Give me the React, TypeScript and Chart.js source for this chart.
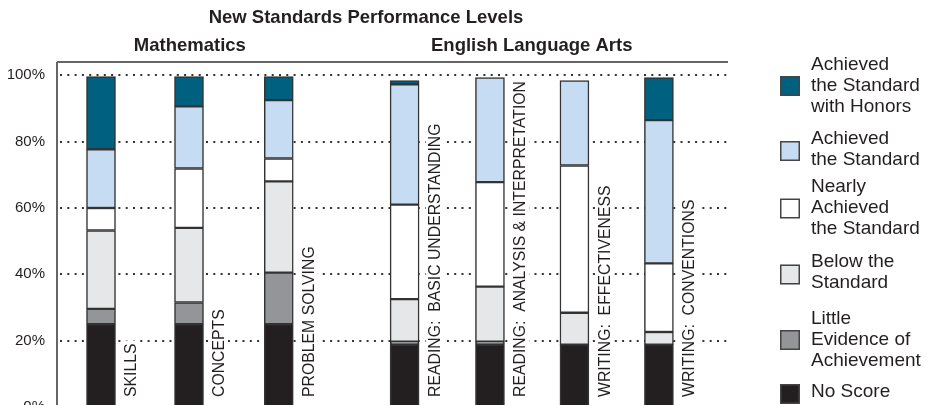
import React, { useEffect, useRef } from "react";
import { Chart, registerables } from "chart.js";
Chart.register(...registerables);

// ---- data ----
const categories = [
  "SKILLS",
  "CONCEPTS",
  "PROBLEM SOLVING",
  "READING:  BASIC UNDERSTANDING",
  "READING:  ANALYSIS & INTERPRETATION",
  "WRITING:  EFFECTIVENESS",
  "WRITING:  CONVENTIONS",
];
// category slot positions along the x axis (gap between the two subject groups)
const slots = [0.5, 1.5, 2.52, 3.95, 4.92, 5.88, 6.84];
const slotMax = 7.625;

const noScore = [25, 25, 25, 19, 19, 18.8, 18.8];
const littleEvidence = [4.6, 6.5, 15.5, 0.7, 0.7, 0, 0];
const belowStandard = [23.6, 22.5, 27.5, 12.8, 16.6, 9.6, 3.8];
const nearlyAchieved = [6.8, 17.9, 6.9, 28.5, 31.5, 44.4, 20.7];
const achieved = [17.7, 18.7, 17.6, 36.3, 31.5, 25.6, 43.2];
const honors = [21.9, 9.0, 7.1, 1.1, 0, 0, 12.8];

const seriesNames = [
  "No Score",
  "Little\nEvidence of\nAchievement",
  "Below the\nStandard",
  "Nearly\nAchieved\nthe Standard",
  "Achieved\nthe Standard",
  "Achieved\nthe Standard\nwith Honors",
];
const seriesValues = [noScore, littleEvidence, belowStandard, nearlyAchieved, achieved, honors];
const seriesColors = ["#231f20", "#939598", "#e6e7e8", "#ffffff", "#c6dcf2", "#00607f"];

const yTicks = [0, 20, 40, 60, 80, 100];
const yMax = 104;

const title = "New Standards Performance Levels";
const groupTitles = ["Mathematics", "English Language Arts"];
const groupMembers = [[0, 1, 2], [3, 4, 5, 6]];

const FONT = "'Liberation Sans', Arial, Helvetica, sans-serif";
const TEXT = "#231f20";

const decorPlugin = {
  id: "decor",
  beforeDatasetsDraw(chart: any) {
    const { ctx, chartArea } = chart;
    const y = chart.scales.y;
    ctx.save();
    // dotted gridlines
    ctx.strokeStyle = "#333";
    ctx.lineWidth = 1.8;
    ctx.setLineDash([2, 5.3]);
    yTicks.forEach((v) => {
      if (v === 0) return;
      const py = Math.round(y.getPixelForValue(v));
      ctx.beginPath();
      ctx.moveTo(chartArea.left + 3, py);
      ctx.lineTo(chartArea.right, py);
      ctx.stroke();
    });
    ctx.setLineDash([]);
    // top rule
    ctx.strokeStyle = "#333";
    ctx.lineWidth = 1.5;
    ctx.beginPath();
    ctx.moveTo(chartArea.left, chartArea.top);
    ctx.lineTo(chartArea.right, chartArea.top);
    ctx.stroke();
    // left axis
    ctx.strokeStyle = "#666";
    ctx.lineWidth = 2;
    ctx.beginPath();
    ctx.moveTo(chartArea.left, chartArea.top);
    ctx.lineTo(chartArea.left, chartArea.bottom);
    ctx.stroke();
    ctx.restore();
  },
  afterDatasetsDraw(chart: any) {
    const { ctx, chartArea } = chart;
    const x = chart.scales.x;
    ctx.save();
    // rotated category labels
    ctx.font = `15.8px ${FONT}`;
    ctx.fillStyle = TEXT;
    categories.forEach((c, i) => {
      const cx = x.getPixelForValue(slots[i]) + 30;
      const by = chartArea.bottom - 10;
      const w = ctx.measureText(c).width;
      ctx.save();
      ctx.translate(cx, by);
      ctx.rotate(-Math.PI / 2);
      ctx.fillStyle = "#fff";
      ctx.fillRect(-3, -9, w + 6, 18);
      ctx.fillStyle = TEXT;
      ctx.textAlign = "left";
      ctx.textBaseline = "middle";
      ctx.fillText(c, 0, 1);
      ctx.restore();
    });
    // titles
    ctx.fillStyle = TEXT;
    ctx.textAlign = "center";
    ctx.textBaseline = "alphabetic";
    ctx.font = `bold 18.5px ${FONT}`;
    ctx.fillText(title, 358, 15);
    groupTitles.forEach((g, gi) => {
      const m = groupMembers[gi];
      const a = x.getPixelForValue(slots[m[0]]);
      const b = x.getPixelForValue(slots[m[m.length - 1]]);
      ctx.fillText(g, (a + b) / 2, 43);
    });
    // legend
    ctx.font = `19px ${FONT}`;
    ctx.textAlign = "left";
    ctx.textBaseline = "middle";
    const centers = [386, 332, 266.5, 200.5, 143, 78];
    const lineH = 21;
    seriesNames.forEach((name, i) => {
      const cy = centers[i];
      const bx = 772;
      ctx.fillStyle = seriesColors[i];
      ctx.fillRect(bx, cy - 10, 20, 20);
      ctx.strokeStyle = "#444";
      ctx.lineWidth = 1.5;
      ctx.strokeRect(bx + 0.75, cy - 9.25, 18.5, 18.5);
      const lines = name.split("\n");
      ctx.fillStyle = TEXT;
      lines.forEach((ln, li) => {
        const ty = cy + (li - (lines.length - 1) / 2) * lineH + (lines.length === 3 ? -0.5 : -2);
        ctx.fillText(ln, 803, ty);
      });
    });
    ctx.restore();
  },
};

export default function App() {
  const ref = useRef<HTMLCanvasElement | null>(null);
  useEffect(() => {
    if (!ref.current) return;
    const chart = new Chart(ref.current, {
      type: "bar",
      data: {
        datasets: seriesValues.map((vals, i) => ({
          label: seriesNames[i].replace(/\n/g, " "),
          data: vals.map((v, j) => ({ x: slots[j], y: v > 0 ? v : null })),
          backgroundColor: seriesColors[i],
          borderColor: "#333",
          borderWidth: 1.5,
          borderSkipped: false,
          barThickness: 29,
        })),
      },
      options: {
        responsive: false,
        animation: false,
        devicePixelRatio: 1,
        layout: { padding: { top: 54, right: 202, bottom: 20, left: 0 } },
        plugins: { legend: { display: false }, tooltip: { enabled: false }, title: { display: false } },
        scales: {
          x: {
            type: "linear",
            stacked: true,
            offset: false,
            min: 0,
            max: slotMax,
            display: false,
          },
          y: {
            stacked: true,
            min: 0,
            max: yMax,
            afterBuildTicks: (s: any) => {
              s.ticks = yTicks.map((v) => ({ value: v }));
            },
            afterFit: (s: any) => {
              s.width = 49;
            },
            grid: { display: false, drawTicks: false },
            border: { display: false },
            ticks: {
              padding: 12,
              color: TEXT,
              font: { size: 15, family: FONT },
              callback: (v: any) => `${v}%`,
            },
          },
        },
      },
      plugins: [decorPlugin],
    });
    return () => chart.destroy();
  }, []);
  return (
    <div style={{ height: 397, overflow: "hidden" }}>
      <canvas ref={ref} width={922} height={420} style={{ display: "block" }} />
    </div>
  );
}
